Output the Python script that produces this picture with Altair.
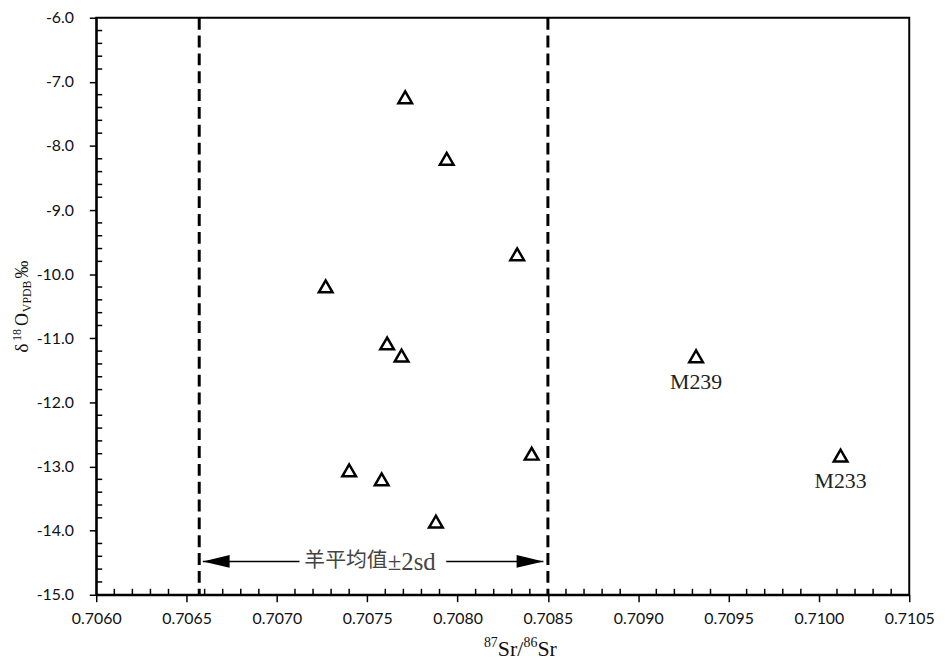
import altair as alt
import pandas as pd

# ---- data ----
sr = [0.70771, 0.70794, 0.70833, 0.70727, 0.70761, 0.70769,
      0.70740, 0.70758, 0.70841, 0.70788, 0.70932, 0.71012]
d18o = [-7.24, -8.20, -9.69, -10.19, -11.08, -11.27,
        -13.06, -13.20, -12.80, -13.86, -11.28, -12.83]
names = ["", "", "", "", "", "", "", "", "", "", "M239", "M233"]

band_bounds = [0.70657, 0.70850]          # sheep mean ±2sd
arrow_y = -14.48
arrow_tips = [0.70659, 0.708475]
arrow_gap = [0.707125, 0.707937]
arrow_text_cjk = "羊平均值"
arrow_text_lat = "±2sd"
arrow_text_x = [0.707152, 0.707613]

x_ticks = [round(0.7060 + 0.0005 * i, 4) for i in range(10)]
y_ticks = list(range(-15, -5))
x_minor = [round(0.7060 + 0.0001 * i, 4) for i in range(46) if i % 5 != 0]
y_minor = [round(-15 + 0.2 * i, 1) for i in range(46) if i % 5 != 0]

TOP = 7
W, H = 820, 597 - 8 - TOP
xscale = alt.Scale(domain=[0.7060, 0.7105], nice=False, zero=False)
yscale = alt.Scale(domain=[-15, -6], nice=False, zero=False)
xaxis = alt.Axis(values=x_ticks, format=".4f", tickSize=7, labelPadding=9,
                 labelFlush=False, title=None)
yaxis = alt.Axis(values=y_ticks, tickSize=7, labelPadding=16, labelFlush=False,
                 title=None,
                 labelExpr="(datum.value < 0 ? '-' : '') + format(abs(datum.value), '.1f')")


def X(f):
    return alt.X(f, scale=xscale, axis=xaxis, title=None)


def Y(f):
    return alt.Y(f, scale=yscale, axis=yaxis, title=None)


pts = pd.DataFrame({"sr": sr, "o": d18o, "name": names})

points = alt.Chart(pts).mark_point(
    shape="triangle-up", filled=False, size=190, strokeWidth=2.5,
    color="black", opacity=1
).encode(x=X("sr:Q"), y=Y("o:Q"))

point_labels = alt.Chart(pts).mark_text(
    font="Liberation Serif", fontSize=22, dy=26, color="#222"
).encode(x=X("sr:Q"), y=Y("o:Q"), text="name:N")

band = alt.Chart(pd.DataFrame({"x": band_bounds})).mark_rule(
    strokeDash=[12, 6], strokeWidth=3, color="black"
).encode(x=X("x:Q"))

seg = pd.DataFrame({"x": [arrow_tips[0], arrow_gap[1]],
                    "x2": [arrow_gap[0], arrow_tips[1]],
                    "y": [arrow_y, arrow_y]})
arrow_lines = alt.Chart(seg).mark_rule(strokeWidth=1.5, color="black").encode(
    x=X("x:Q"), x2="x2:Q", y=Y("y:Q"))

left_head = alt.Chart(pd.DataFrame({"x": [arrow_tips[0]], "y": [arrow_y]})).mark_point(
    shape="M0,0L2,-0.48L2,0.48Z", filled=True, size=729, color="black", opacity=1
).encode(x=X("x:Q"), y=Y("y:Q"))
right_head = alt.Chart(pd.DataFrame({"x": [arrow_tips[1]], "y": [arrow_y]})).mark_point(
    shape="M0,0L-2,-0.48L-2,0.48Z", filled=True, size=729, color="black", opacity=1
).encode(x=X("x:Q"), y=Y("y:Q"))

arrow_label_cjk = alt.Chart(pd.DataFrame({"x": [arrow_text_x[0]], "y": [arrow_y], "t": [arrow_text_cjk]})).mark_text(
    font="Noto Sans CJK SC", fontSize=21, color="#444", baseline="middle", align="left"
).encode(x=X("x:Q"), y=Y("y:Q"), text="t:N")
arrow_label_lat = alt.Chart(pd.DataFrame({"x": [arrow_text_x[1]], "y": [arrow_y], "t": [arrow_text_lat]})).mark_text(
    font="Liberation Serif", fontSize=25, color="#444", baseline="middle", align="left", dy=1
).encode(x=X("x:Q"), y=Y("y:Q"), text="t:N")

y_minor_rules = alt.Chart(pd.DataFrame({"v": y_minor})).mark_rule(
    color="black", strokeWidth=1.5
).encode(y=Y("v:Q"), x=alt.value(0), x2=alt.value(6))
x_minor_rules = alt.Chart(pd.DataFrame({"v": x_minor})).mark_rule(
    color="black", strokeWidth=1.5
).encode(x=X("v:Q"), y=alt.value(H), y2=alt.value(H - 6))


def piece(text, px, py, size, angle=0, font="Liberation Serif"):
    # py given relative to a plot top of 4 px; shift to the current TOP
    return alt.Chart(pd.DataFrame({"a": [0]})).mark_text(
        text=text, font=font, fontSize=size, angle=angle, align="left",
        baseline="alphabetic", color="#111"
    ).encode(x=alt.value(px), y=alt.value(py - (TOP - 4)))


# x-axis title: 87Sr/86Sr
xt_base = 647
xt = [
    piece("87", 391, xt_base - 9, 14),
    piece("Sr/", 405, xt_base, 22),
    piece("86", 431, xt_base - 9, 14),
    piece("Sr", 445, xt_base, 22),
]
# y-axis title: δ18 O VPDB ‰ (rotated)
yt = [
    piece("δ", -69, 341, 20, 270),
    piece("18", -76, 329, 12, 270),
    piece("O", -69, 314, 18, 270),
    piece("VPDB", -66, 300, 12, 270),
    piece("‰", -69, 266, 18, 270),
]

BOTTOM = 654 - TOP - H
chart = alt.layer(
    points, band, arrow_lines, left_head, right_head, arrow_label_cjk,
    arrow_label_lat, point_labels, y_minor_rules, x_minor_rules, *xt, *yt
).properties(
    width=W, height=H,
    autosize=alt.AutoSizeParams(type="none"),
    padding={"left": 89, "top": TOP, "right": 28, "bottom": BOTTOM},
).configure_view(
    stroke="black", strokeWidth=2
).configure_axis(
    grid=False, domainColor="black", domainWidth=2, tickColor="black",
    tickWidth=1.5, labelFont="Lato", labelFontSize=16, labelColor="#111"
)

chart.save("out.html", embed_options={"renderer": "svg", "actions": False})
